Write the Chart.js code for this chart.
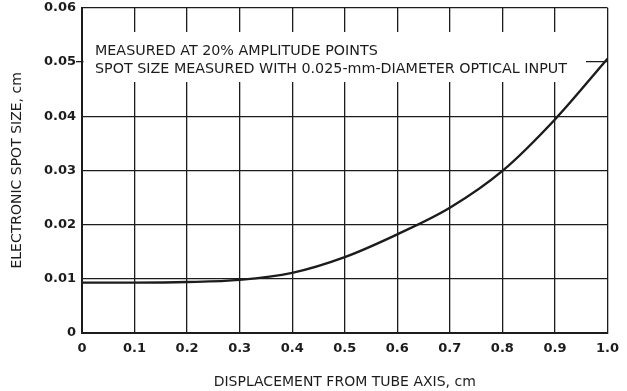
<!DOCTYPE html>
<html>
<head>
<meta charset="utf-8">
<script src="https://cdn.jsdelivr.net/npm/chart.js@4.4.1/dist/chart.umd.min.js"></script>
<style>
  html, body { margin: 0; padding: 0; background: #fff; }
</style>
</head>
<body>
<canvas id="spotChart" width="627" height="391"></canvas>
<script>
// displacement from tube axis (cm) and measured spot size (cm)
const displacement = [0, 0.1, 0.2, 0.3, 0.4, 0.5, 0.6, 0.7, 0.8, 0.9, 1.0];
const spotSize = [0.0093, 0.0093, 0.0094, 0.0098, 0.0111, 0.0140, 0.0182, 0.0231, 0.0299, 0.0394, 0.0506];

const xTickLabels = ['0', '0.1', '0.2', '0.3', '0.4', '0.5', '0.6', '0.7', '0.8', '0.9', '1.0'];
const yTickLabels = ['0', '0.01', '0.02', '0.03', '0.04', '0.05', '0.06'];

const noteLines = [
    'MEASURED AT 20% AMPLITUDE POINTS',
    'SPOT SIZE MEASURED WITH 0.025-mm-DIAMETER OPTICAL INPUT'
];

const ink = '#1c1c1c';

// white label box over the grid, with the two note lines in it
const notePlugin = {
    id: 'note',
    beforeDatasetsDraw(chart) {
        const { ctx, chartArea, scales: { y } } = chart;
        const left = chartArea.left + 1.5;
        const right = 586;
        const top = 32;
        const bottom = 82;
        ctx.save();
        ctx.fillStyle = '#fff';
        ctx.fillRect(left, top, right - left, bottom - top);
        ctx.fillStyle = ink;
        ctx.font = '14.3px "DejaVu Sans"';
        ctx.textBaseline = 'middle';
        ctx.fillText(noteLines[0], 95, y.getPixelForValue(0.0520));
        ctx.fillText(noteLines[1], 95, y.getPixelForValue(0.0487));
        ctx.restore();
    }
};

new Chart(document.getElementById('spotChart'), {
    type: 'line',
    data: {
        datasets: [{
            data: displacement.map((d, i) => ({ x: d, y: spotSize[i] })),
            borderColor: ink,
            borderWidth: 2.4,
            pointRadius: 0,
            cubicInterpolationMode: 'monotone',
            fill: false
        }]
    },
    options: {
        responsive: false,
        animation: false,
        layout: {
            padding: { left: 0, right: 15, top: 6, bottom: 0 }
        },
        plugins: {
            legend: { display: false },
            tooltip: { enabled: false }
        },
        scales: {
            x: {
                type: 'linear',
                min: 0,
                max: 1,
                afterFit(scale) {
                    scale.height = 58;
                },
                ticks: {
                    stepSize: 0.1,
                    padding: 8,
                    color: ink,
                    maxRotation: 0,
                    font: { family: 'DejaVu Sans', size: 13, weight: 'bold' },
                    callback: (v, i) => xTickLabels[i]
                },
                grid: {
                    color: ink,
                    lineWidth: 1.3,
                    drawTicks: false
                },
                border: { color: ink, width: 2 },
                title: {
                    display: true,
                    text: 'DISPLACEMENT FROM TUBE AXIS, cm',
                    color: ink,
                    font: { family: 'DejaVu Sans', size: 14 },
                    padding: { top: 0, bottom: 0 }
                }
            },
            y: {
                min: 0,
                max: 0.06,
                afterFit(scale) {
                    scale.width = 82;
                },
                ticks: {
                    stepSize: 0.01,
                    padding: 0,
                    color: ink,
                    font: { family: 'DejaVu Sans', size: 13, weight: 'bold' },
                    callback: (v, i) => yTickLabels[i]
                },
                grid: {
                    color: ink,
                    lineWidth: 1.3,
                    tickLength: 6,
                    tickColor: (c) => (c.index === 5 ? ink : 'rgba(0,0,0,0)')
                },
                border: { color: ink, width: 2 },
                title: {
                    display: true,
                    text: 'ELECTRONIC SPOT SIZE, cm',
                    color: ink,
                    font: { family: 'DejaVu Sans', size: 14 },
                    padding: { top: 9, bottom: 0 }
                }
            }
        }
    },
    plugins: [notePlugin]
});
</script>
</body>
</html>
